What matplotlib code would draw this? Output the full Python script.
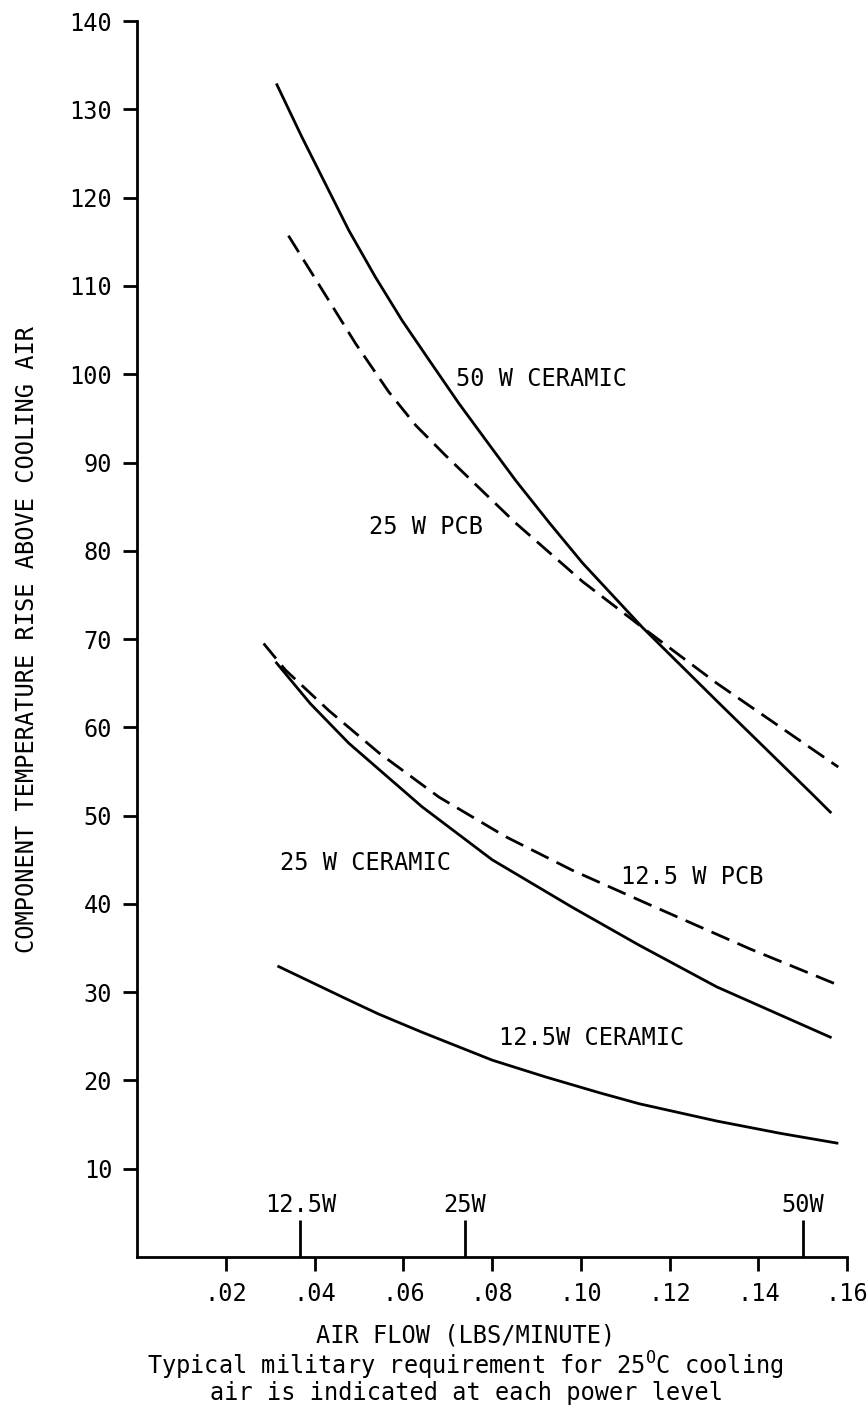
import matplotlib
matplotlib.use('Agg')
import matplotlib.pyplot as plt

plt.rcParams['font.family'] = ['DejaVu Sans Mono', 'DejaVu Sans']
plt.rcParams['mathtext.fontset'] = 'custom'
plt.rcParams['mathtext.rm'] = 'DejaVu Sans Mono'

# values
ceramic_50_x = [0.0315, 0.0371, 0.0424, 0.0477, 0.0537, 0.0597, 0.0658, 0.0725, 0.0801,
                0.0854, 0.0930, 0.1004, 0.1139, 0.1306, 0.1524, 0.1562]
ceramic_50_y = [132.8, 126.9, 121.6, 116.3, 111.0, 106.1, 101.6, 96.7, 91.5,
                87.9, 83.1, 78.6, 71.3, 63.0, 52.3, 50.4]

pcb_25_x = [0.0341, 0.0424, 0.0492, 0.0567, 0.0628, 0.0695, 0.0763, 0.0854, 0.1004,
            0.1139, 0.1306, 0.1580]
pcb_25_y = [115.7, 109.0, 103.5, 98.0, 94.2, 90.8, 87.5, 83.1, 76.5,
            71.3, 65.0, 55.5]

ceramic_25_x = [0.0314, 0.0390, 0.0477, 0.0642, 0.0800, 0.0981, 0.1132, 0.1306, 0.1562]
ceramic_25_y = [67.3, 62.7, 58.2, 51.0, 45.0, 39.6, 35.3, 30.6, 24.9]

pcb_125_x = [0.0285, 0.0334, 0.0432, 0.0545, 0.0680, 0.0831, 0.0981, 0.1155, 0.1381, 0.1580]
pcb_125_y = [69.5, 66.5, 61.9, 57.1, 52.1, 47.6, 43.8, 39.9, 34.9, 30.8]

ceramic_125_x = [0.0319, 0.0477, 0.0545, 0.0640, 0.0800, 0.0920, 0.1042, 0.1132, 0.1306,
                 0.1450, 0.1577]
ceramic_125_y = [32.9, 29.1, 27.5, 25.5, 22.3, 20.4, 18.6, 17.35, 15.4, 14.0, 12.9]

req_flow = [0.0368, 0.0739, 0.150]
req_labels = ['12.5W', '25W', '50W']

x_ticks = [0.02, 0.04, 0.06, 0.08, 0.10, 0.12, 0.14, 0.16]
x_tick_labels = ['.02', '.04', '.06', '.08', '.10', '.12', '.14', '.16']
y_ticks = list(range(10, 141, 10))

fig = plt.figure(figsize=(8.68, 14.12), dpi=100)
ax = fig.add_axes([0.158, 0.1098, 0.818, 0.8752])

lw = 2.0
dash = (0, (7, 3.2))
ax.plot(ceramic_50_x, ceramic_50_y, color='black', lw=lw)
ax.plot(pcb_25_x, pcb_25_y, color='black', lw=lw, linestyle=dash)
ax.plot(ceramic_25_x, ceramic_25_y, color='black', lw=lw)
ax.plot(pcb_125_x, pcb_125_y, color='black', lw=lw, linestyle=dash)
ax.plot(ceramic_125_x, ceramic_125_y, color='black', lw=lw)

fs = 17
ax.text(0.0718, 99.5, '50 W CERAMIC', fontsize=fs, va='center')
ax.text(0.0522, 82.7, '25 W PCB', fontsize=fs, va='center')
ax.text(0.0322, 44.6, '25 W CERAMIC', fontsize=fs, va='center')
ax.text(0.1091, 43.1, '12.5 W PCB', fontsize=fs, va='center')
ax.text(0.0816, 24.8, '12.5W CERAMIC', fontsize=fs, va='center')

# required air flow markers
ax.vlines(req_flow, 0, 4.2, color='black', lw=lw)
for xv, lab in zip(req_flow, req_labels):
    ax.text(xv, 5.9, lab, fontsize=fs, ha='center', va='center')

ax.set_xlim(0, 0.16)
ax.set_ylim(0, 140)
ax.set_xticks(x_ticks)
ax.set_xticklabels(x_tick_labels)
ax.set_yticks(y_ticks)
ax.tick_params(direction='out', length=10, width=lw, labelsize=fs, pad=8)
ax.spines['top'].set_visible(False)
ax.spines['right'].set_visible(False)
ax.spines['left'].set_linewidth(lw)
ax.spines['bottom'].set_linewidth(lw)

ax.set_ylabel('COMPONENT TEMPERATURE RISE ABOVE COOLING AIR', fontsize=fs, labelpad=22)

fig.text(0.536, 1 - 1335 / 1412, 'AIR FLOW (LBS/MINUTE)', fontsize=fs, ha='center', va='center')
fig.text(0.536, 1 - 1366 / 1412, r'Typical military requirement for 25$^{\mathrm{O}}$C cooling',
         fontsize=fs, ha='center', va='center')
fig.text(0.538, 1 - 1393 / 1412, 'air is indicated at each power level', fontsize=fs,
         ha='center', va='center')

fig.savefig('out.png', dpi=100)
